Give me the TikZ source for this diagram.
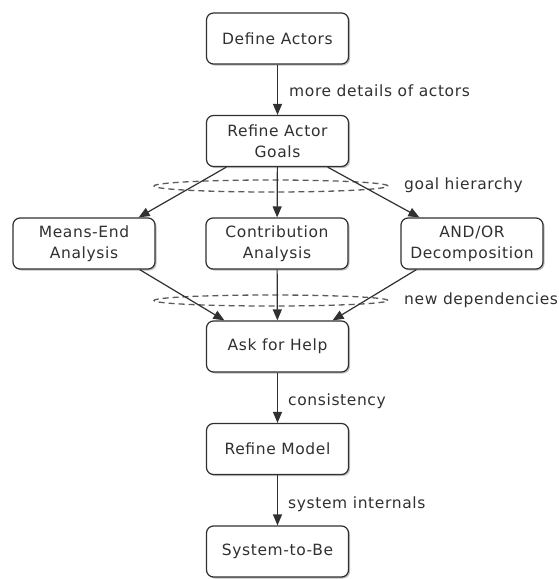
\documentclass[tikz,border=0pt]{standalone}
\usepackage{fontspec}
\setmainfont{DejaVu Sans}[LetterSpace=4]
\usetikzlibrary{arrows.meta,shadows,calc}
\definecolor{ink}{HTML}{303030}
\definecolor{ringgray}{HTML}{5a5a5a}
\tikzset{
  stepbox/.style={draw=ink, line width=1.2pt, rounded corners=7pt, fill=white,
    minimum width=142pt, minimum height=51pt, align=center, text=ink,
    font=\fontsize{15.5}{21}\selectfont,
    drop shadow={shadow xshift=1.5pt, shadow yshift=-1.5pt, opacity=0.25, fill=black}},
  flow/.style={draw=ink, line width=1.2pt, -{Triangle[length=11pt,width=9pt]}},
  note/.style={anchor=west, text=ink, font=\fontsize{15.5}{18}\selectfont, inner sep=0pt},
  ring/.style={draw=ringgray, line width=1.3pt, dash pattern=on 6pt off 4pt}
}
\begin{document}
\begin{tikzpicture}[x=1pt, y=-1pt]
\useasboundingbox (0,0) rectangle (558,579);

% process steps
\node[stepbox] (define)  at (277.5, 38.5)  {Define Actors};
\node[stepbox] (refine)  at (277.5, 141)   {Refine Actor\\Goals};
\node[stepbox] (means)   at (84, 243.5)    {Means-End\\Analysis};
\node[stepbox] (contrib) at (277, 243.5)   {Contribution\\Analysis};
\node[stepbox] (andor)   at (472, 243.5)   {AND/OR\\Decomposition};
\node[stepbox] (ask)     at (277.5, 346.5) {Ask for Help};
\node[stepbox] (model)   at (277.5, 449)   {Refine Model};
\node[stepbox] (tobe)    at (277.5, 551.5) {System-to-Be};

% dashed rings marking the fan-out and fan-in
\draw[ring] (271, 186) ellipse [x radius=117pt, y radius=6pt];
\draw[ring] (271, 300.5) ellipse [x radius=117pt, y radius=5.5pt];

% connectors
\draw[flow] (define) -- (refine);
\draw[flow] ($(refine.south west)+(20.5,0)$) -- ($(means.north east)+(-17,0)$);
\draw[flow] (refine) -- (contrib);
\draw[flow] ($(refine.south east)+(-21.5,0)$) -- ($(andor.north west)+(19,0)$);
\draw[flow] ($(means.south east)+(-16,0)$) -- ($(ask.north west)+(18.5,0)$);
\draw[flow] (contrib) -- (ask);
\draw[flow] ($(andor.south west)+(16,0)$) -- ($(ask.north east)+(-16.5,0)$);
\draw[flow] (ask) -- (model);
\draw[flow] (model) -- (tobe);

% annotations
\node[note] (n1) at (289, 91)  {more details of actors};
\node[note] (n2) at (404, 185) {goal hierarchy};
\node[note] (n3) at (404, 300) {new dependencies};
\node[note] (n4) at (288, 401) {consistency};
\node[note] (n5) at (288, 504) {system internals};
\end{tikzpicture}
\end{document}
